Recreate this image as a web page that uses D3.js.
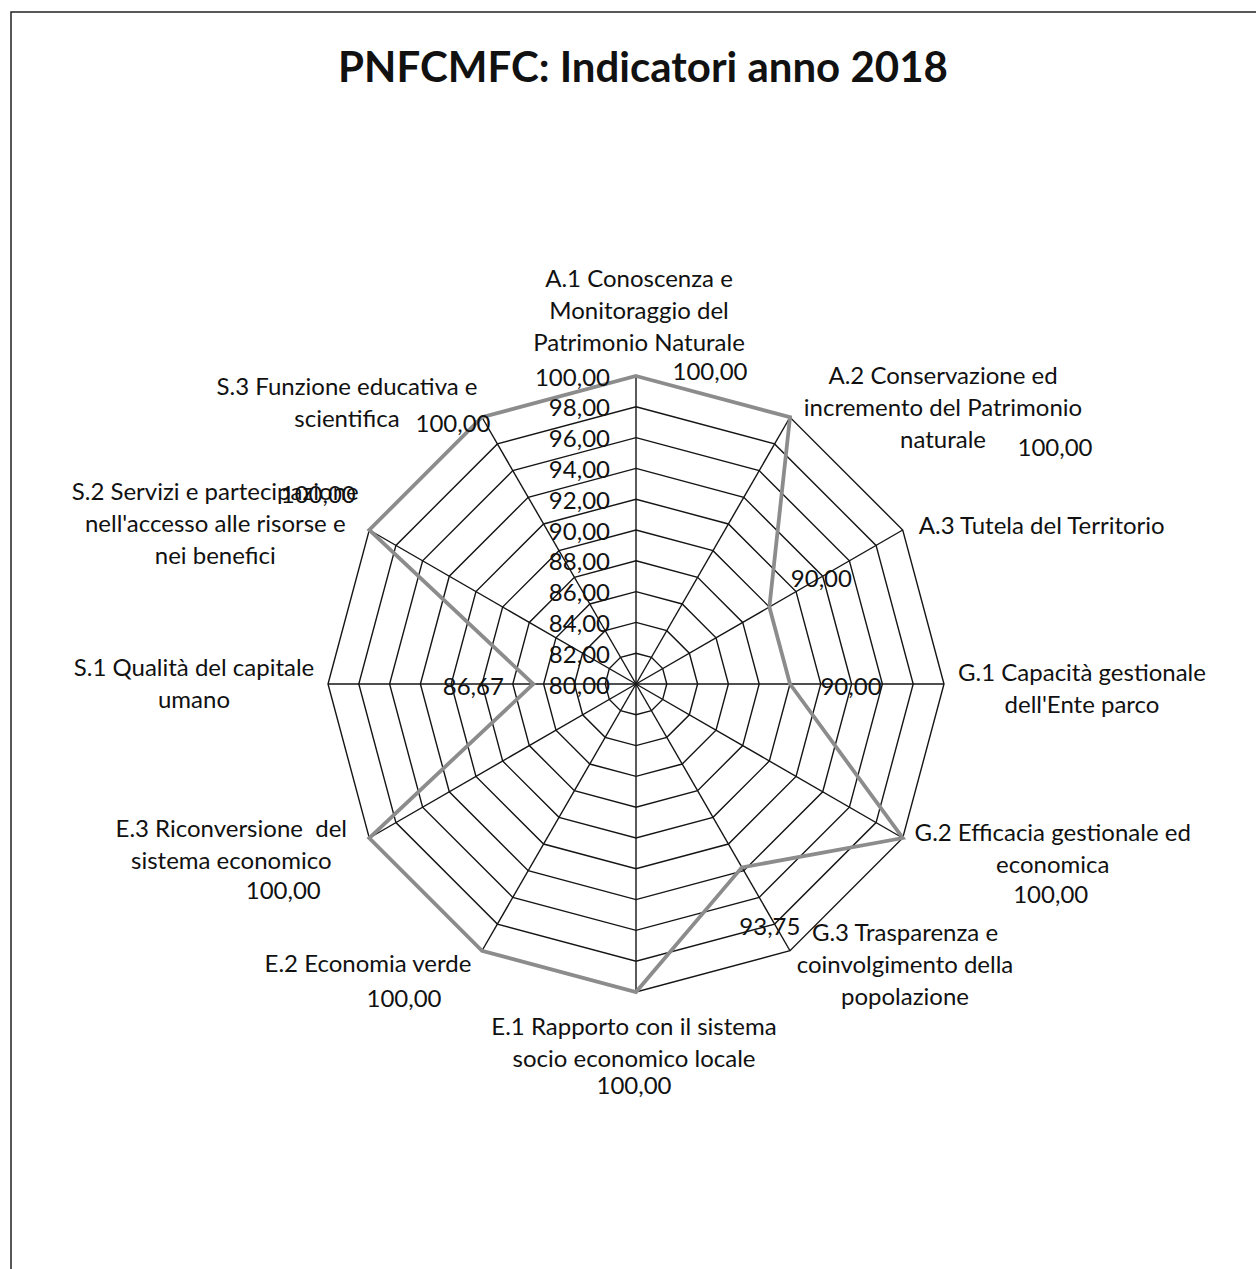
<!DOCTYPE html>
<head>
  <meta charset="utf-8">
  <script src="https://cdn.jsdelivr.net/npm/d3@7"></script>
  <style>
    body { margin: 0; background: white; }
    text { font-family: Lato, "Open Sans", sans-serif; fill: #111; white-space: pre; }
    .grid { fill: none; stroke: #151515; stroke-width: 1.4; }
    .serie { fill: none; stroke: #8c8c8c; stroke-width: 3.8; stroke-linejoin: miter; }
  </style>
</head>

<body>
  <script>
const W = 1256;
const H = 1269;

// data
const categories = [
  "A.1 Conoscenza e\nMonitoraggio del\nPatrimonio Naturale",
  "A.2 Conservazione ed\nincremento del Patrimonio\nnaturale",
  "A.3 Tutela del Territorio",
  "G.1 Capacità gestionale\ndell'Ente parco",
  "G.2 Efficacia gestionale ed\neconomica",
  "G.3 Trasparenza e\ncoinvolgimento della\npopolazione",
  "E.1 Rapporto con il sistema\nsocio economico locale",
  "E.2 Economia verde",
  "E.3 Riconversione  del\nsistema economico",
  "S.1 Qualità del capitale\numano",
  "S.2 Servizi e partecipazione\nnell'accesso alle risorse e\nnei benefici",
  "S.3 Funzione educativa e\nscientifica"
];
const values = [100, 100, 90, 90, 100, 93.75, 100, 100, 100, 86.67, 100, 100];
const tickValues = [80, 82, 84, 86, 88, 90, 92, 94, 96, 98, 100];
const title = "PNFCMFC: Indicatori anno 2018";

// layout tweaks for the labels (offsets from outer vertex / data point)
const catOffsets = [[3,-99],[153,-43],[139,-6],[138,-13],[150,-7],[115,-19],
                    [-2,33],[-114,12],[-138,-11],[-134,-18],[-154,-40],[-135,-32]];
const valOffsets = [[74,-6],[265,29],[52,-30],[61,1],[148,55],[28,58],
                    [-2,92],[-78,47],[-86,51],[-60,1],[-51,-37],[-29,5]];

const cx = 636, cy = 684, R = 308;
const fmt = v => d3.format(".2f")(v).replace(".", ",");

var svg = d3.select("body").append("svg")
  .attr("width", W)
  .attr("height", H);

// frame (only left and top visible in the scan)
svg.append("path")
  .attr("d", "M11,1269 L11,12 L1256,12")
  .attr("fill", "none")
  .attr("stroke", "#222")
  .attr("stroke-width", 1.5);

svg.append("text")
  .attr("x", 643)
  .attr("y", 66)
  .attr("text-anchor", "middle")
  .attr("dominant-baseline", "central")
  .style("font-size", "42px")
  .style("font-weight", "bold")
  .text(title);

var r = d3.scaleLinear().domain([80, 100]).range([0, R]);
var a = d3.scaleLinear().domain([0, categories.length]).range([0, 2 * Math.PI]);

var g = svg.append("g").attr("transform", "translate(" + cx + "," + cy + ")");

const px = (i, v) => r(v) * Math.sin(a(i));
const py = (i, v) => -r(v) * Math.cos(a(i));

var ring = d3.lineRadial()
  .angle((d, i) => a(i))
  .radius(d => r(d))
  .curve(d3.curveLinearClosed);

// rings
g.selectAll("path.ring").data(tickValues.slice(1))
  .enter().append("path")
  .attr("class", "grid ring")
  .attr("d", t => ring(categories.map(() => t)));

// spokes
g.selectAll("line.spoke").data(categories)
  .enter().append("line")
  .attr("class", "grid")
  .attr("x1", 0).attr("y1", 0)
  .attr("x2", (d, i) => px(i, 100))
  .attr("y2", (d, i) => py(i, 100));

// serie
g.append("path")
  .attr("class", "serie")
  .attr("d", ring(values));

// tick labels
g.selectAll("text.tick").data(tickValues)
  .enter().append("text")
  .attr("x", -26)
  .attr("y", t => -r(t))
  .attr("text-anchor", "end")
  .attr("dominant-baseline", "central")
  .style("font-size", "24px")
  .text(fmt);

// category labels
g.selectAll("text.cat").data(categories)
  .enter().append("text")
  .attr("text-anchor", "middle")
  .style("font-size", "24px")
  .each(function(d, i) {
    const lines = d.split("\n");
    const x = px(i, 100) + catOffsets[i][0];
    const y = py(i, 100) + catOffsets[i][1];
    d3.select(this).selectAll("tspan").data(lines)
      .enter().append("tspan")
      .attr("x", x)
      .attr("y", (l, j) => y + j * 32)
      .attr("dominant-baseline", "central")
      .text(l => l);
  });

// value labels
g.selectAll("text.val").data(values)
  .enter().append("text")
  .attr("x", (v, i) => px(i, v) + valOffsets[i][0])
  .attr("y", (v, i) => py(i, v) + valOffsets[i][1])
  .attr("text-anchor", "middle")
  .attr("dominant-baseline", "central")
  .style("font-size", "24px")
  .text(fmt);
  </script>
</body>
